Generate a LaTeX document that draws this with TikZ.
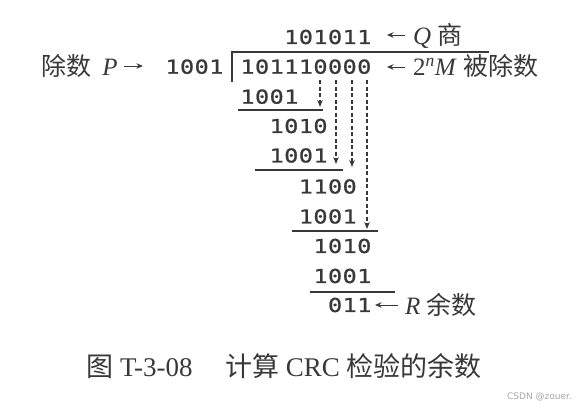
\documentclass[tikz,border=0pt]{standalone}
\usepackage{fontspec}
\setmainfont{Liberation Serif}
\setsansfont{DejaVu Sans}
\newfontfamily\cjk{Noto Sans CJK SC}
\newfontfamily\digfont[FakeStretch=1.22,FakeBold=1]{DejaVu Sans Mono}
\usetikzlibrary{arrows.meta}
\newlength\dw \setlength\dw{14.6pt}
\makeatletter
\newcommand\dg[1]{{\digfont\fontsize{19.2pt}{20pt}\selectfont\@tfor\@dgx:=#1\do{\makebox[\dw]{\@dgx}}}}
\makeatother
\definecolor{ink}{gray}{0.22}
\tikzset{
  num/.style={inner sep=0pt, anchor=west, text=ink},
  lab/.style={inner sep=0pt, anchor=west, text=ink, font=\fontsize{25pt}{28pt}\selectfont},
  rule/.style={draw=ink, line width=1.1pt},
  ptr/.style={draw=ink, line width=1pt, -{Stealth[length=6.5pt,width=5.5pt]}},
  carry/.style={draw=ink, line width=1.1pt, dash pattern=on 4pt off 2.5pt, -{Stealth[length=7pt,width=5.5pt]}}
}
\begin{document}
\begin{tikzpicture}[x=1pt,y=-1pt]
\useasboundingbox (0,0) rectangle (587,410);
% numbers (column c starts at 240+14.6c)
\node[num] (quot) at (283.8,37)  {\dg{101011}};
\node[num] (dvs)  at (165,66.7)  {\dg{1001}};
\node[num] (dvd)  at (240,66.7)  {\dg{101110000}};
\node[num] (s1)   at (240,96.7)  {\dg{1001}};
\node[num] (r1)   at (269.2,126) {\dg{1010}};
\node[num] (s2)   at (269.2,155.5) {\dg{1001}};
\node[num] (r2)   at (298.4,186.5) {\dg{1100}};
\node[num] (s3)   at (298.4,216.5) {\dg{1001}};
\node[num] (r3)   at (313,246)   {\dg{1010}};
\node[num] (s4)   at (313,276)   {\dg{1001}};
\node[num] (rem)  at (327.6,305) {\dg{011}};
% division bracket
\coordinate (bt) at (232,52);
\coordinate (bb) at (232,82);
\coordinate (be) at (489,52);
\draw[rule] (bb) -- (bt) -- (be);
% subtraction rules
\coordinate (u1a) at (238,110); \coordinate (u1b) at (323,110);
\coordinate (u2a) at (255,170); \coordinate (u2b) at (343,170);
\coordinate (u3a) at (292,231); \coordinate (u3b) at (378,231);
\coordinate (u4a) at (310,292); \coordinate (u4b) at (395,292);
\draw[rule] (u1a) -- (u1b);
\draw[rule] (u2a) -- (u2b);
\draw[rule] (u3a) -- (u3b);
\draw[rule] (u4a) -- (u4b);
% bring-down arrows
\coordinate (c1) at (320,80);  \coordinate (e1) at (320,107);
\coordinate (c2) at (336,80);  \coordinate (e2) at (336,164);
\coordinate (c3) at (352,80);  \coordinate (e3) at (352,167);
\coordinate (c4) at (367,80);  \coordinate (e4) at (367,229);
\draw[carry] (c1) -- (e1);
\draw[carry] (c2) -- (e2);
\draw[carry] (c3) -- (e3);
\draw[carry] (c4) -- (e4);
% labels
\node[lab] (qlab) at (413,36) {\textit{Q} {\cjk 商}};
\node[lab] (mlab) at (413,66) {2\textsuperscript{\textit{n}}\textit{M} {\cjk 被除数}};
\node[lab] (plab) at (41,66)  {{\cjk 除数}\hspace{0.45em}\textit{P}};
\node[lab] (rlab) at (405,305) {\textit{R} {\cjk 余数}};
\coordinate (qa) at (405,35);  \coordinate (qt) at (387,35);
\coordinate (ma) at (405,67);  \coordinate (mt) at (387,67);
\coordinate (pa) at (124,66);  \coordinate (pt) at (143,66);
\coordinate (ra) at (398,305); \coordinate (rt) at (375,305);
\draw[ptr] (qa) -- (qt);
\draw[ptr] (ma) -- (mt);
\draw[ptr] (pa) -- (pt);
\draw[ptr] (ra) -- (rt);
% caption
\node[inner sep=0pt, text=ink, font=\fontsize{27pt}{30pt}\selectfont] (cap) at (284,366)
  {{\cjk 图} T-3-08\hspace{1.2em}{\cjk 计算} CRC {\cjk 检验的余数}};
\node[inner sep=0pt, anchor=east, text=gray!70, font=\sffamily\fontsize{9pt}{10pt}\selectfont] (wm) at (572,397) {CSDN @zouer.};
\end{tikzpicture}
\end{document}
